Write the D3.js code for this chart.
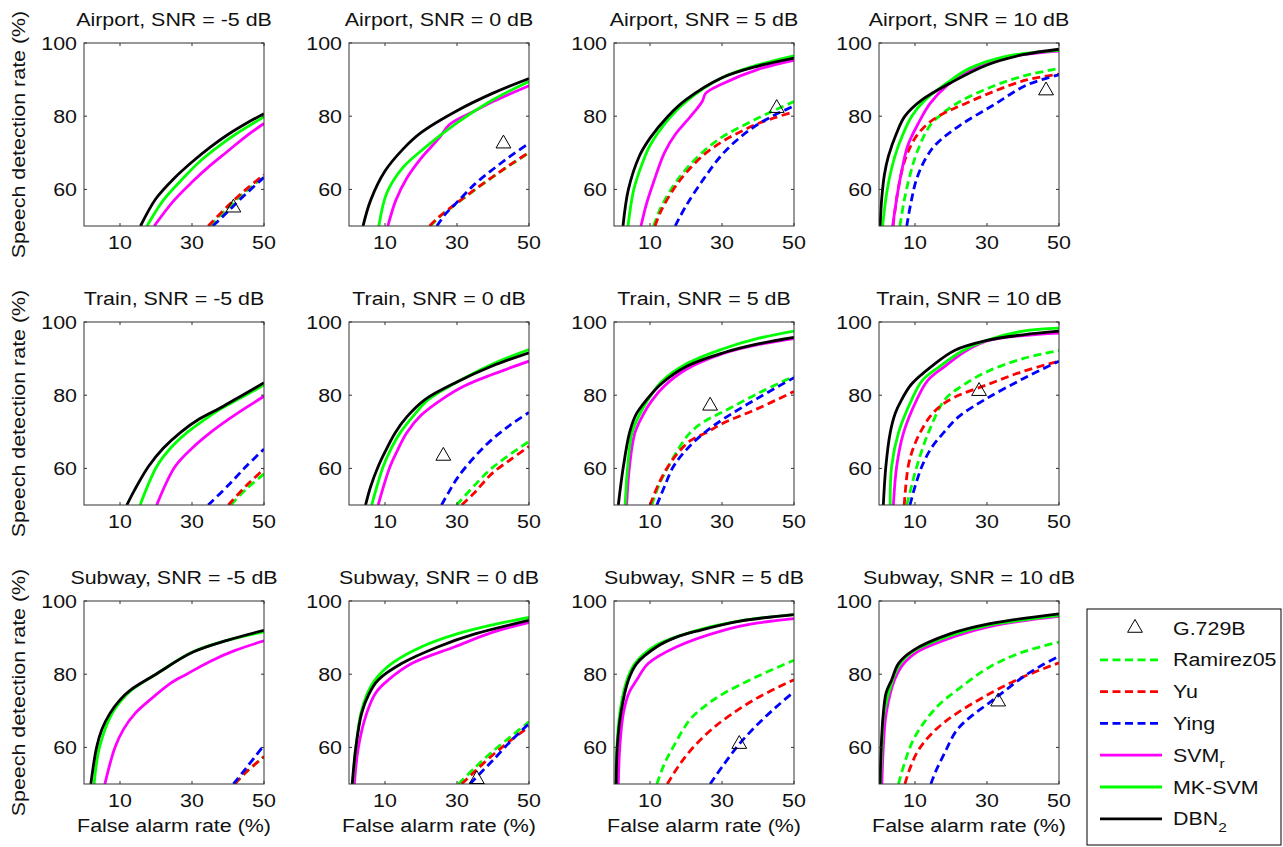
<!DOCTYPE html>
<html>
<head>
<meta charset="utf-8">
<script src="https://cdn.jsdelivr.net/npm/d3@7"></script>
<style>
  body { margin: 0; background: #fff; }
  svg { font-family: Arial, "Liberation Sans", sans-serif; }
  .box { fill: none; stroke: #333; stroke-width: 1; }
  .tick-mark { stroke: #333; stroke-width: 1; }
  .curve { fill: none; stroke-width: 2.8; }
</style>
</head>
<body>
<div id="chart"></div>
<script>
// panel titles (row by row)
const panelTitles = [
  'Airport, SNR = -5 dB', 'Airport, SNR = 0 dB', 'Airport, SNR = 5 dB', 'Airport, SNR = 10 dB',
  'Train, SNR = -5 dB', 'Train, SNR = 0 dB', 'Train, SNR = 5 dB', 'Train, SNR = 10 dB',
  'Subway, SNR = -5 dB', 'Subway, SNR = 0 dB', 'Subway, SNR = 5 dB', 'Subway, SNR = 10 dB'
];

const xTicks = [10, 30, 50];
const yTicks = [60, 80, 100];

// G.729B operating point per panel (null = off the plotted range)
const g729b = [
  [41.5, 55], [42.9, 72.5], [45.2, 82.2], [46.4, 87],
  null, [26.2, 63.4], [26.7, 77.1], [27.8, 81.1],
  null, [35.5, 51.3], [34.8, 60.9], [33.1, 72.5]
];

// ROC points [false alarm %, speech detection %] per panel
const ramirez05 = [
  [[35,50],[40,55],[45,59.5],[50,63.5]],
  [[22.6,50],[25,52.4],[30,56.2],[35,59.9],[40,63.4],[45,66.8],[50,70]],
  [[11,50],[13,55],[16.5,61],[20,65.5],[25,70.5],[30,74.3],[35,77],[40,79.5],[45,81.8],[50,84]],
  [[5.8,50],[7,57],[8.5,63.5],[10.5,70],[14.2,77.5],[18,81],[22.5,84],[31.7,88.2],[41,91.2],[50,93]],
  [[40.8,50],[45,54.3],[50,58.5]],
  [[29.9,50],[35,55.5],[39.6,60],[45,64],[50,67.4]],
  [[10.5,50],[12.5,55.5],[15.1,60.5],[18,65.5],[21.1,69.7],[25,72.8],[30.4,75.5],[40,80.5],[50,85.2]],
  [[7.7,50],[9,55],[10.5,60.5],[13.7,69.7],[18.3,78.8],[23,82.5],[30.4,86.6],[40,90],[50,92.2]],
  [[41.9,50],[45,53.2],[50,57.5]],
  [[30.4,50],[35,54.5],[40,59],[45,63],[50,67]],
  [[11.9,50],[14,55.5],[16.5,60.2],[21.1,67.6],[25.5,71.5],[30.4,74.7],[39.6,79.3],[50,83.8]],
  [[5.4,50],[7.5,57],[9.5,62],[12.3,66.5],[16.5,71.5],[21.6,75.6],[30.8,82],[40.1,86.1],[50,88.8]]
];

const yu = [
  [[34.5,50],[40,55.5],[45,60],[50,64]],
  [[22.4,50],[25,52.5],[30,56.3],[35,60],[40,63.5],[45,66.9],[50,70.1]],
  [[11.4,50],[13,54],[16.5,60],[20,64.5],[25,69.5],[30,73],[35,75.7],[40,78],[45,79.7],[50,81.2]],
  [[3.9,50],[5.3,60],[7.2,68],[10,74],[13.6,78],[18,80.8],[22.5,82.8],[31.7,86.7],[41,89.9],[50,91.5]],
  [[40.1,50],[45,55.2],[50,59.8]],
  [[31.3,50],[35,53.5],[39.6,58.5],[45,62.5],[50,66]],
  [[10,50],[12.5,56],[15,60.5],[18,64.5],[21.1,67.5],[25.7,69.8],[30.4,72.4],[39.6,76.2],[50,81]],
  [[7,50],[8.1,60.5],[9.5,65.5],[11.4,69.7],[14.2,74.2],[17,77],[21.1,79.5],[30.4,83],[40,86.5],[50,89.3]],
  [[41.9,50],[45,53.2],[50,57.5]],
  [[31.3,50],[35,53.5],[40,58],[45,62],[50,65.6]],
  [[14.8,50],[18,55],[21.1,59],[25.5,63.5],[30.4,67.5],[39.6,73.4],[50,78.5]],
  [[7.2,50],[8.5,54],[10.5,58.5],[13,62],[16.5,65.5],[21.6,69.3],[30.8,74.7],[40.1,79.3],[50,83.1]]
];

const ying = [
  [[35.8,50],[40,54],[45,58.8],[50,63.3]],
  [[24.4,50],[27,53.5],[30,56.5],[35,61.5],[40,65.5],[45,69.2],[50,72.6]],
  [[17,50],[20,55.5],[25,63],[30,69.5],[35,74.2],[40,77.8],[45,80.5],[50,82.8]],
  [[7.7,50],[9,57],[10.5,63],[13,68.5],[16,72.5],[22.5,77.5],[31.7,83],[41,88.5],[50,91.3]],
  [[34.5,50],[40,55.3],[45,60.5],[50,65.3]],
  [[25.7,50],[28,54],[30.4,57.8],[35,63.3],[39.6,67.8],[45,72],[50,75.3]],
  [[11.9,50],[14,55],[16.5,60.5],[20,65],[24.8,69.5],[30.4,73.5],[39.6,79],[50,84.8]],
  [[8.6,50],[10,55],[11.9,60.5],[14.5,65.5],[17.9,69.7],[22,74],[29.4,78.8],[40,84.5],[50,89.3]],
  [[41.5,50],[45,54.3],[50,60.6]],
  [[33.6,50],[37,53.5],[40,56.5],[45,61.8],[50,66.5]],
  [[26.7,50],[30.4,55.2],[34.8,60.9],[39.6,66],[45,71],[50,75.2]],
  [[14.4,50],[16,54],[18,58],[21.6,64.7],[26,68.8],[30.8,72.3],[35,75.5],[40.1,79.3],[45,82.3],[50,84.9]]
];

const svmR = [
  [[19.5,50],[25,57],[30,62],[35,66.5],[40,70.5],[45,74.5],[50,78]],
  [[10.8,50],[13,57],[16,63],[20,68.5],[25,74],[28,77.8],[35,81.5],[40,84],[50,88.3]],
  [[7.5,50],[9,56],[11,62],[14,70],[17,75],[20,78.5],[23,82],[24.5,84],[25.5,86.3],[30,88.8],[40,92.8],[50,95.3]],
  [[3.8,50],[5,58],[6.3,65],[8,72],[10.9,78],[14.2,83.5],[19,88.5],[25,92.5],[35,96],[50,97.8]],
  [[20.2,50],[25.3,60.5],[30,65.5],[35,69.7],[40,73.3],[45,76.6],[50,79.7]],
  [[8.1,50],[11.4,60.5],[13.5,65],[16,69.7],[20,74.5],[25.7,78.8],[32,82.5],[39.6,85.6],[50,89.3]],
  [[3.5,50],[4.3,60.5],[5.8,69.7],[8,74.5],[10.5,78.5],[14,82.5],[20,87],[30.4,91.4],[40,93.8],[50,95.5]],
  [[4,50],[4.9,60.5],[6.8,69.7],[10.5,78.8],[13.5,84],[18.3,87.9],[24,92],[30,94.8],[40,96.3],[50,97]],
  [[5.8,50],[8.6,60],[11,65],[14.2,69.3],[19.3,73.8],[24,77.5],[28.5,80],[35,83.5],[42,86.5],[50,89.1]],
  [[1.5,50],[2.6,60],[4.9,69.3],[7.5,75],[10.9,78.4],[17.4,82.9],[29.4,87.5],[40,91.5],[50,94.1]],
  [[1.2,50],[1.6,60],[2.6,69.3],[4.2,75],[6.3,78.4],[9.5,82.9],[17.4,87.5],[30.4,92],[40,94],[50,95.2]],
  [[0.8,50],[1.2,60],[2,69.3],[4.3,78.4],[6.7,82.7],[11,86.3],[21,90.3],[32,93.3],[50,95.8]]
];

const mkSvm = [
  [[17.5,50],[22,57],[27,62.5],[32,67.5],[37,71.5],[42,75],[50,79.8]],
  [[8.3,50],[10.5,59],[15,66],[20,70.5],[25,74.5],[30,78.2],[40,84.5],[50,89.5]],
  [[3.9,50],[5.5,60],[8,67.5],[10,72],[15,79],[20,84],[30,90.5],[40,94],[50,96.5]],
  [[1,50],[2.3,60],[4.4,69],[6.8,75.4],[9.1,80],[12.8,84.4],[18.8,89],[25,93],[35,96.3],[50,98]],
  [[15.6,50],[20.2,60.5],[24,65.5],[28.5,69.7],[33,73],[38,76.3],[44,79.5],[50,82.8]],
  [[6.3,50],[9.5,60.5],[11.5,65],[14.2,69.7],[18,74.5],[22,78.8],[30.4,83.8],[39.6,88.4],[50,92.5]],
  [[3.1,50],[3.8,60.5],[5,69.7],[7,74.5],[9.5,78.8],[13,83.5],[20,88.5],[30.4,92.7],[40,95.5],[50,97.5]],
  [[3.1,50],[3.5,60.5],[5.4,69.7],[9.1,78.8],[12,84],[16.9,87.9],[23,92],[30,95],[40,97.5],[50,98.3]],
  [[2.8,50],[4.3,60],[7.8,69.3],[10.5,73],[13,75.5],[20,80],[30,86],[40,89.3],[50,91.6]],
  [[1,50],[1.9,60],[3.3,69.3],[5,74.5],[7.2,78.4],[12,83],[20.2,87.5],[30,91],[40,93.5],[50,95.5]],
  [[0.5,50],[0.8,60],[1.6,69.3],[3.6,78.4],[5.8,82.9],[11.5,87.8],[23.9,92.2],[35,94.6],[50,96.3]],
  [[0.4,50],[0.8,60],[1.4,69.3],[3.8,78.4],[5.9,82.9],[10,86.5],[20,90.6],[31,93.5],[50,96]]
];

const dbn2 = [
  [[15.7,50],[20,57.5],[25,63],[30,67.5],[35,71.5],[40,75],[45,78],[50,80.7]],
  [[3.9,50],[6,57],[10,65],[15,71],[20,75.5],[30,81.5],[40,86.3],[50,90.3]],
  [[2.5,50],[4,60],[7,69],[10,74],[15,80],[20,84.5],[30,90.5],[40,93.7],[50,95.9]],
  [[0.3,50],[0.8,58],[1.5,64],[2.6,69],[4.9,75.4],[7.2,80],[12,84.5],[19.7,89],[30,94],[40,96.8],[50,98.3]],
  [[11.9,50],[14,54],[17.9,60.5],[22,65.5],[27,70],[32,73.5],[37.8,76.5],[44,80],[50,83.4]],
  [[4.6,50],[6,55],[8.1,60.5],[10,64.5],[12.8,69.7],[16,74],[21.1,78.8],[30.4,83.8],[39.6,87.9],[50,91.6]],
  [[1.2,50],[2.6,60.5],[4.3,69.7],[6,74.5],[9.1,78.8],[13,83],[20.2,87.9],[30.4,91.6],[40,94],[50,95.8]],
  [[1.2,50],[1.9,60.5],[3.1,69.7],[4.5,75],[6.3,78.8],[9,83],[14.6,87.9],[21.1,92.3],[30,95],[40,96.5],[50,97.5]],
  [[1.9,50],[3.5,60],[5,65],[7.2,69.3],[10,73],[12.8,75.6],[20,80],[30,85.9],[40,89.3],[50,92]],
  [[0.9,50],[1.9,60],[3.5,69.3],[5.5,74.5],[8.1,78.4],[14.6,82.9],[24.8,87.5],[35,91],[50,94.7]],
  [[0.6,50],[0.9,60],[1.9,69.3],[4,78.4],[6.3,82.9],[11.9,87.5],[17,90],[23.9,92],[35,94.5],[50,96.3]],
  [[0.3,50],[0.6,60],[1.2,69.3],[2,75],[3.5,78.4],[5.4,82.9],[9.5,86.5],[19.7,91],[30.8,93.8],[50,96.5]]
];

// drawing order follows legend order (later on top)
const series = [
  {name: 'Ramirez05', data: ramirez05, color: '#00ff00', dash: '8,4.5'},
  {name: 'Yu',        data: yu,        color: '#ff0000', dash: '8,4.5'},
  {name: 'Ying',      data: ying,      color: '#0000ff', dash: '8,4.5'},
  {name: 'SVM', sub: 'r', data: svmR,  color: '#ff00ff', dash: null},
  {name: 'MK-SVM',    data: mkSvm,     color: '#00ff00', dash: null},
  {name: 'DBN', sub: '2', data: dbn2,  color: '#000000', dash: null}
];

const W = 1283, H = 847;
const colX = [84, 349, 614, 879],
      rowY = [43, 322, 601],
      pw = 180, ph = 183;
const FS = 18, SX = 1.19;   // text in the figure is stretched horizontally

const svg = d3.select('#chart').append('svg')
  .attr('width', W).attr('height', H);

const x = d3.scaleLinear().domain([0, 50]).range([0, pw]);
const y = d3.scaleLinear().domain([50, 100]).range([ph, 0]);

const line = d3.line()
  .x(d => x(d[0]))
  .y(d => y(d[1]))
  .curve(d3.curveCatmullRom.alpha(0.5));

const triangle = d3.symbol().type(d3.symbolTriangle).size(95);

// stretched text helper
function label(sel, tx, ty, str, anchor, extra) {
  return sel.append('text')
    .attr('transform', `translate(${tx},${ty}) ${extra || ''} scale(${SX},1)`)
    .attr('text-anchor', anchor)
    .attr('font-size', FS)
    .attr('fill', '#111')
    .text(str);
}

panelTitles.forEach((title, i) => {
  const r = Math.floor(i / 4), c = i % 4;
  const g = svg.append('g').attr('transform', `translate(${colX[c]},${rowY[r]})`);

  g.append('clipPath').attr('id', 'clip' + i)
    .append('rect').attr('width', pw).attr('height', ph);

  // curves
  const plot = g.append('g').attr('clip-path', `url(#clip${i})`);
  series.forEach(s => {
    plot.append('path')
      .attr('class', 'curve')
      .attr('d', line(s.data[i]))
      .attr('stroke', s.color)
      .attr('stroke-dasharray', s.dash);
  });

  // axes box + inward ticks on all four sides
  g.append('rect').attr('class', 'box').attr('width', pw).attr('height', ph);
  xTicks.forEach(t => {
    g.append('line').attr('class', 'tick-mark')
      .attr('x1', x(t)).attr('x2', x(t)).attr('y1', ph).attr('y2', ph - 3);
    g.append('line').attr('class', 'tick-mark')
      .attr('x1', x(t)).attr('x2', x(t)).attr('y1', 0).attr('y2', 3);
    label(g, x(t), ph + 23, t, 'middle');
  });
  yTicks.forEach(t => {
    g.append('line').attr('class', 'tick-mark')
      .attr('x1', 0).attr('x2', 3).attr('y1', y(t)).attr('y2', y(t));
    g.append('line').attr('class', 'tick-mark')
      .attr('x1', pw).attr('x2', pw - 3).attr('y1', y(t)).attr('y2', y(t));
    label(g, -7, y(t) + 6.5, t, 'end');
  });

  // G.729B marker (not clipped)
  if (g729b[i]) {
    g.append('path')
      .attr('d', triangle())
      .attr('transform', `translate(${x(g729b[i][0])},${y(g729b[i][1])})`)
      .attr('fill', 'none').attr('stroke', '#000').attr('stroke-width', 1);
  }

  label(g, pw / 2, -17, title, 'middle');

  if (c === 0) {
    label(g, -59, ph / 2, 'Speech detection rate (%)', 'middle', 'rotate(-90)');
  }
  if (r === 2) {
    label(g, pw / 2, ph + 48, 'False alarm rate (%)', 'middle');
  }
});

// legend
const legend = svg.append('g').attr('transform', 'translate(1087,609)');
legend.append('rect').attr('width', 194).attr('height', 236)
  .attr('fill', '#fff').attr('stroke', '#000').attr('stroke-width', 1);

const rowH = 31.8, firstY = 19;
legend.append('path').attr('d', triangle())
  .attr('transform', `translate(48,${firstY})`)
  .attr('fill', 'none').attr('stroke', '#000').attr('stroke-width', 1);
label(legend, 86, firstY + 6.5, 'G.729B', 'start');

series.forEach((s, k) => {
  const yy = firstY + rowH * (k + 1);
  legend.append('line')
    .attr('x1', 13).attr('x2', 75).attr('y1', yy).attr('y2', yy)
    .attr('stroke', s.color).attr('stroke-width', 2.8)
    .attr('stroke-dasharray', s.dash);
  const t = label(legend, 86, yy + 6.5, s.name, 'start');
  if (s.sub) {
    t.append('tspan').attr('dy', '0.5em').attr('font-size', 13).text(s.sub);
  }
});
</script>
</body>
</html>
